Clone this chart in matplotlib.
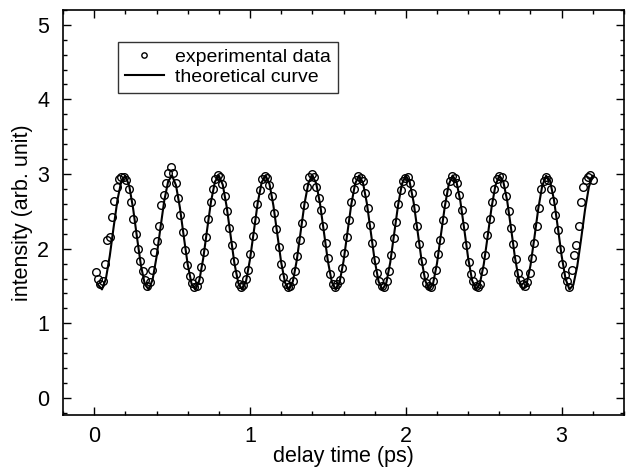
import matplotlib
matplotlib.use("Agg")
import matplotlib.pyplot as plt
from matplotlib.ticker import MultipleLocator

plt.rcParams['font.family'] = ['Liberation Sans', 'DejaVu Sans']

# experimental data (delay time in ps, intensity in arb. unit)
exp_t = [
    0.010, 0.025, 0.040, 0.055, 0.070, 0.085, 0.100, 0.115, 0.130, 0.145, 0.160, 0.175, 0.191, 0.206, 0.221, 0.236, 0.251, 0.266, 0.281, 0.296,
    0.311, 0.326, 0.341, 0.356, 0.371, 0.386, 0.401, 0.416, 0.431, 0.446, 0.461, 0.476, 0.492, 0.507, 0.522, 0.537, 0.552, 0.567, 0.582, 0.597,
    0.612, 0.627, 0.642, 0.657, 0.672, 0.687, 0.702, 0.717, 0.732, 0.747, 0.762, 0.777, 0.793, 0.808, 0.823, 0.838, 0.853, 0.868, 0.883, 0.898,
    0.913, 0.928, 0.943, 0.958, 0.973, 0.988, 1.003, 1.018, 1.033, 1.048, 1.063, 1.078, 1.094, 1.109, 1.124, 1.139, 1.154, 1.169, 1.184, 1.199,
    1.214, 1.229, 1.244, 1.259, 1.274, 1.289, 1.304, 1.319, 1.334, 1.349, 1.364, 1.379, 1.395, 1.410, 1.425, 1.440, 1.455, 1.470, 1.485, 1.500,
    1.515, 1.530, 1.545, 1.560, 1.575, 1.590, 1.605, 1.620, 1.635, 1.650, 1.665, 1.680, 1.696, 1.711, 1.726, 1.741, 1.756, 1.771, 1.786, 1.801,
    1.816, 1.831, 1.846, 1.861, 1.876, 1.891, 1.906, 1.921, 1.936, 1.951, 1.966, 1.981, 1.997, 2.012, 2.027, 2.042, 2.057, 2.072, 2.087, 2.102,
    2.117, 2.132, 2.147, 2.162, 2.177, 2.192, 2.207, 2.222, 2.237, 2.252, 2.267, 2.282, 2.298, 2.313, 2.328, 2.343, 2.358, 2.373, 2.388, 2.403,
    2.418, 2.433, 2.448, 2.463, 2.478, 2.493, 2.508, 2.523, 2.538, 2.553, 2.568, 2.583, 2.599, 2.614, 2.629, 2.644, 2.659, 2.674, 2.689, 2.704,
    2.719, 2.734, 2.749, 2.764, 2.779, 2.794, 2.809, 2.824, 2.839, 2.854, 2.869, 2.884, 2.900, 2.915, 2.930, 2.945, 2.960, 2.975, 2.990, 3.005,
    3.020, 3.035, 3.050, 3.065, 3.080, 3.095, 3.110, 3.125, 3.140, 3.155, 3.170, 3.185, 3.201,
]
exp_i = [
    1.69, 1.60, 1.53, 1.57, 1.80, 2.12, 2.16, 2.42, 2.64, 2.82, 2.94, 2.96, 2.96, 2.92, 2.80, 2.62, 2.40, 2.20, 2.00, 1.84,
    1.70, 1.58, 1.50, 1.55, 1.72, 1.95, 2.10, 2.30, 2.58, 2.72, 2.88, 3.02, 3.10, 3.02, 2.88, 2.68, 2.45, 2.22, 1.98, 1.78,
    1.64, 1.54, 1.49, 1.50, 1.58, 1.75, 1.95, 2.15, 2.40, 2.62, 2.80, 2.93, 2.99, 2.96, 2.86, 2.70, 2.50, 2.28, 2.05, 1.84,
    1.66, 1.53, 1.49, 1.51, 1.60, 1.72, 1.93, 2.17, 2.38, 2.60, 2.78, 2.93, 2.98, 2.95, 2.85, 2.70, 2.48, 2.27, 2.02, 1.80,
    1.62, 1.52, 1.48, 1.50, 1.56, 1.70, 1.90, 2.12, 2.35, 2.58, 2.82, 2.96, 3.00, 2.96, 2.82, 2.68, 2.52, 2.30, 2.08, 1.88,
    1.66, 1.53, 1.48, 1.52, 1.58, 1.74, 1.94, 2.16, 2.38, 2.62, 2.80, 2.92, 2.97, 2.95, 2.90, 2.74, 2.55, 2.32, 2.08, 1.85,
    1.68, 1.56, 1.50, 1.49, 1.57, 1.70, 1.92, 2.14, 2.36, 2.60, 2.78, 2.90, 2.95, 2.96, 2.88, 2.74, 2.55, 2.30, 2.06, 1.84,
    1.65, 1.54, 1.50, 1.48, 1.56, 1.72, 1.93, 2.12, 2.38, 2.60, 2.76, 2.90, 2.97, 2.95, 2.88, 2.72, 2.52, 2.30, 2.05, 1.82,
    1.66, 1.56, 1.50, 1.48, 1.52, 1.70, 1.92, 2.18, 2.40, 2.62, 2.80, 2.93, 2.97, 2.96, 2.86, 2.70, 2.50, 2.28, 2.06, 1.86,
    1.68, 1.58, 1.52, 1.50, 1.55, 1.68, 1.88, 2.08, 2.30, 2.55, 2.80, 2.90, 2.96, 2.92, 2.80, 2.64, 2.45, 2.25, 2.00, 1.80,
    1.65, 1.56, 1.49, 1.72, 1.92, 2.05, 2.30, 2.62, 2.83, 2.92, 2.96, 2.99, 2.92,
]

# theoretical curve
theo_t = [
    0.025, 0.050, 0.075, 0.100, 0.125, 0.150, 0.175, 0.200, 0.225, 0.250, 0.275, 0.300,
    0.325, 0.350, 0.375, 0.400, 0.425, 0.450, 0.475, 0.500, 0.525, 0.550, 0.575, 0.600,
    0.625, 0.650, 0.675, 0.700, 0.725, 0.750, 0.775, 0.800, 0.825, 0.850, 0.875, 0.900,
    0.925, 0.950, 0.975, 1.000, 1.025, 1.050, 1.075, 1.100, 1.125, 1.150, 1.175, 1.200,
    1.225, 1.250, 1.275, 1.300, 1.325, 1.350, 1.375, 1.400, 1.425, 1.450, 1.475, 1.500,
    1.525, 1.550, 1.575, 1.600, 1.625, 1.650, 1.675, 1.700, 1.725, 1.750, 1.775, 1.800,
    1.825, 1.850, 1.875, 1.900, 1.925, 1.950, 1.975, 2.000, 2.025, 2.050, 2.075, 2.100,
    2.125, 2.150, 2.175, 2.200, 2.225, 2.250, 2.275, 2.300, 2.325, 2.350, 2.375, 2.400,
    2.425, 2.450, 2.475, 2.500, 2.525, 2.550, 2.575, 2.600, 2.625, 2.650, 2.675, 2.700,
    2.725, 2.750, 2.775, 2.800, 2.825, 2.850, 2.875, 2.900, 2.925, 2.950, 2.975, 3.000,
    3.025, 3.050, 3.075, 3.100, 3.125, 3.150, 3.175, 3.200,
]
theo_i = [
    1.516, 1.454, 1.595, 1.901, 2.291, 2.660, 2.911, 2.977, 2.840, 2.536, 2.147, 1.776,
    1.522, 1.453, 1.586, 1.887, 2.275, 2.647, 2.904, 2.978, 2.849, 2.551, 2.163, 1.790,
    1.529, 1.452, 1.577, 1.872, 2.259, 2.634, 2.897, 2.979, 2.857, 2.565, 2.179, 1.803,
    1.537, 1.451, 1.568, 1.858, 2.243, 2.620, 2.890, 2.980, 2.866, 2.579, 2.195, 1.817,
    1.544, 1.450, 1.560, 1.844, 2.227, 2.607, 2.882, 2.980, 2.874, 2.593, 2.211, 1.830,
    1.552, 1.450, 1.552, 1.830, 2.211, 2.593, 2.874, 2.980, 2.882, 2.607, 2.227, 1.844,
    1.560, 1.450, 1.544, 1.816, 2.195, 2.579, 2.866, 2.980, 2.890, 2.621, 2.243, 1.858,
    1.568, 1.451, 1.536, 1.803, 2.179, 2.564, 2.857, 2.979, 2.897, 2.634, 2.259, 1.873,
    1.577, 1.452, 1.529, 1.789, 2.163, 2.550, 2.848, 2.978, 2.904, 2.647, 2.275, 1.887,
    1.586, 1.453, 1.522, 1.776, 2.147, 2.536, 2.839, 2.977, 2.911, 2.661, 2.291, 1.902,
    1.595, 1.454, 1.515, 1.763, 2.131, 2.521, 2.830, 2.975,
]

fig = plt.figure(figsize=(6.27, 4.69), dpi=100)
ax = fig.add_axes([0.1005, 0.115, 0.8947, 0.864])

ax.plot(exp_t, exp_i, 'o', mfc='none', mec='black', ms=5.5, mew=1.0,
        label='experimental data')
ax.plot(theo_t, theo_i, '-', color='black', lw=1.5, label='theoretical curve')

ax.set_xlim(-0.2, 3.4)
ax.set_ylim(-0.23, 5.2)
ax.xaxis.set_major_locator(MultipleLocator(1))
ax.xaxis.set_minor_locator(MultipleLocator(0.2))
ax.yaxis.set_major_locator(MultipleLocator(1))
ax.yaxis.set_minor_locator(MultipleLocator(0.2))
ax.tick_params(which='both', direction='in', top=True, right=True,
               labelsize=15.5, colors='black', width=1)
ax.tick_params(which='major', length=6)
ax.tick_params(which='minor', length=3)
ax.tick_params(axis='x', which='major', pad=8)
ax.tick_params(axis='y', which='major', pad=10)
for s in ax.spines.values():
    s.set_linewidth(1.2)

ax.set_xlabel('delay time (ps)', fontsize=15.5, labelpad=-1)
ax.set_ylabel('intensity (arb. unit)', fontsize=15.5, labelpad=3)

leg = ax.legend(loc='upper left', bbox_to_anchor=(0.098, 0.921),
                borderaxespad=0, fontsize=14, frameon=True, fancybox=False,
                handlelength=2.0, handletextpad=0.6, borderpad=0.35,
                labelspacing=0.1, markerscale=0.7)
leg.get_frame().set_edgecolor('black')
leg.get_frame().set_linewidth(1.0)

fig.savefig('out.png', dpi=100)
